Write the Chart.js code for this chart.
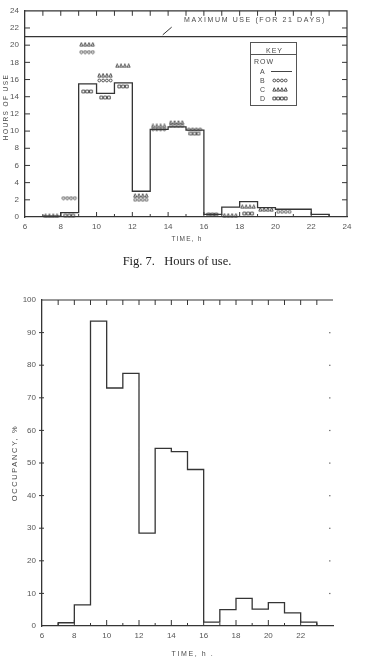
<!DOCTYPE html>
<html>
<head>
<meta charset="utf-8">
<script src="https://cdn.jsdelivr.net/npm/chart.js@4.4.1/dist/chart.umd.min.js"></script>
<style>
body{margin:0;background:#fff;width:378px;height:667px;position:relative;overflow:hidden;
  font-family:"Liberation Sans Narrow","Liberation Sans",sans-serif;color:#4a4a4a}
canvas.ch{position:absolute;left:0}
.t{position:absolute;white-space:pre;font-size:7px;letter-spacing:1.3px;line-height:1;transform:translate(-50%,-50%)}
.r{transform:translate(-50%,-50%) rotate(-90deg)}
#cap{position:absolute;left:177px;top:261px;transform:translate(-50%,-50%);white-space:pre;
  font-family:"Liberation Serif","DejaVu Serif",serif;font-size:12.5px;color:#222}
#key{position:absolute;left:250px;top:42px;width:45px;height:62px;border:1px solid #555}
#key div{position:absolute;font-size:7px;line-height:1;letter-spacing:1px}
#key canvas{position:absolute}
</style>
</head>
<body>
<canvas id="top" class="ch" width="378" height="245" style="top:0"></canvas>
<canvas id="bot" class="ch" width="378" height="387" style="top:280px"></canvas>

<div class="t" style="left:255px;top:19px;letter-spacing:1.6px">MAXIMUM USE (FOR 21 DAYS)</div>
<div class="t r" style="left:6px;top:107px;font-size:6.5px;letter-spacing:1.4px">HOURS OF USE</div>
<div class="t" style="left:187px;top:239px;font-size:6.5px;letter-spacing:1.2px">TIME, h</div>
<div id="cap">Fig. 7.   Hours of use.</div>
<div class="t r" style="left:15px;top:463px;font-size:7.5px;letter-spacing:1.6px">OCCUPANCY, %</div>
<div class="t" style="left:193px;top:653px;font-size:7px;letter-spacing:1.6px">TIME, h .</div>

<div id="key">
  <div style="left:15px;top:4px">KEY</div>
  <div style="left:0;top:11px;width:45px;height:0;border-top:1px solid #555"></div>
  <div style="left:3px;top:15px">ROW</div>
  <div style="left:9px;top:25px">A</div>
  <div style="left:20px;top:28px;width:21px;height:0;border-top:1px solid #444"></div>
  <div style="left:9px;top:34px">B</div>
  <div style="left:9px;top:43px">C</div>
  <div style="left:9px;top:52px">D</div>
</div>

<script>
// top chart: row A step line, value for the hour that starts at hoursA[i]
const hoursA = [6, 7, 8, 9, 10, 11, 12, 13, 14, 15, 16, 17, 18, 19, 20, 21, 22, 23, 24];
const useA = [0, 0.1, 0.5, 15.5, 14.4, 15.6, 3.0, 10.2, 10.5, 10.1, 0.3, 1.15, 1.8, 1.1, 0.9, 0.9, 0.3, 0, 0];
const maxUse = 21;

// rows B, C, D drawn as symbol groups at the middle of each hour
const rowBx = [8.5, 9.5, 10.5, 12.5, 13.5, 14.5, 15.5, 20.5];
const rowBy = [2.2, 19.2, 15.9, 2.0, 10.2, 10.6, 10.2, 0.6];
const rowCx = [7.5, 9.5, 10.5, 11.5, 12.5, 13.5, 14.5, 17.5, 18.5, 19.5];
const rowCy = [0.15, 20.1, 16.5, 17.6, 2.5, 10.6, 11.0, 0.2, 1.2, 0.9];
const rowDx = [8.5, 9.5, 10.5, 11.5, 15.5, 16.5, 18.5];
const rowDy = [0.15, 14.6, 13.9, 15.2, 9.7, 0.3, 0.4];

const topXTicks = [6, 8, 10, 12, 14, 16, 18, 20, 22, 24];
const topYTicks = [0, 2, 4, 6, 8, 10, 12, 14, 16, 18, 20, 22, 24];

// bottom chart: occupancy for the hour that starts at occHours[i]
const occHours = [6, 7, 8, 9, 10, 11, 12, 13, 14, 15, 16, 17, 18, 19, 20, 21, 22, 23];
const occupancy = [0, 1, 6.5, 93.5, 73, 77.5, 28.5, 54.5, 53.5, 48, 1.2, 5, 8.5, 5.2, 7.2, 4, 1.2, 0];
const botXTicks = [6, 8, 10, 12, 14, 16, 18, 20, 22];

const ink = '#353535';
const F = '"Liberation Sans Narrow","Liberation Sans",sans-serif';

function glyph(kind, n) {
  const c = document.createElement('canvas');
  c.width = Math.ceil(n * 3.8 + 1);
  c.height = 5;
  const g = c.getContext('2d');
  g.strokeStyle = '#404040';
  g.lineWidth = 0.9;
  for (let i = 0; i < n; i++) {
    const cx = 2.3 + i * 3.8, cy = 2.5;
    g.beginPath();
    if (kind == 'circle') g.arc(cx, cy, 1.4, 0, Math.PI * 2);
    else if (kind == 'triangle') { g.moveTo(cx - 1.5, cy + 1.6); g.lineTo(cx, cy - 1.8); g.lineTo(cx + 1.5, cy + 1.6); g.closePath(); }
    else g.rect(cx - 1.4, cy - 1.4, 2.8, 2.8);
    g.stroke();
  }
  return c;
}

// legend symbols
[['circle', 34], ['triangle', 43], ['square', 52]].forEach(([k, t]) => {
  const c = glyph(k, 4);
  c.style.left = '21px';
  c.style.top = (t + 0.5) + 'px';
  document.getElementById('key').appendChild(c);
});

const pts = (xs, ys) => xs.map((x, i) => ({x: x, y: ys[i]}));

// inward ticks and the extra frame lines, placed with the scales
function framePlugin(o) {
  return {
    id: 'frame',
    afterDraw(chart) {
      const ctx = chart.ctx, a = chart.chartArea;
      const xs = chart.scales.x, ys = chart.scales.y;
      ctx.save();
      ctx.strokeStyle = ink;
      ctx.lineWidth = 1.2;
      ctx.beginPath();
      ctx.moveTo(a.left, a.top); ctx.lineTo(a.right, a.top);
      if (o.rightBorder) { ctx.lineTo(a.right, a.bottom); }
      ctx.stroke();
      ctx.lineWidth = 1;
      ctx.beginPath();
      for (let h = xs.min + 1; h < xs.max; h++) {
        const px = xs.getPixelForValue(h);
        ctx.moveTo(px, a.top); ctx.lineTo(px, a.top + 5);
        const len = h % 2 == 0 ? o.evenLen : o.oddLen;
        ctx.moveTo(px, a.bottom); ctx.lineTo(px, a.bottom - len);
      }
      for (let v = ys.min + o.yStep; v < ys.max; v += o.yStep) {
        const py = ys.getPixelForValue(v);
        ctx.moveTo(a.left - o.yOut, py); ctx.lineTo(a.left + o.yIn, py);
        if (o.rightBorder) { ctx.moveTo(a.right, py); ctx.lineTo(a.right - 5, py); }
      }
      ctx.stroke();
      if (!o.rightBorder) {
        ctx.fillStyle = '#777';
        for (let v = ys.min + o.yStep; v < ys.max; v += o.yStep) {
          ctx.fillRect(a.right - 4, ys.getPixelForValue(v) - 0.5, 1.5, 1.2);
        }
      }
      if (o.leader) {
        ctx.beginPath();
        ctx.moveTo(xs.getPixelForValue(13.7), ys.getPixelForValue(21.2));
        ctx.lineTo(xs.getPixelForValue(14.2), ys.getPixelForValue(22.1));
        ctx.stroke();
      }
      ctx.restore();
    }
  };
}

function axes(xmin, xmax, xticks, ymax, yticks, xh, yw, ypad) {
  return {
    x: {
      type: 'linear', min: xmin, max: xmax,
      afterFit(s) { s.height = xh; },
      afterBuildTicks(s) { s.ticks = xticks.map(v => ({value: v})); },
      ticks: {font: {size: 8, family: F}, color: '#555', padding: 5, maxRotation: 0, autoSkip: false},
      grid: {drawOnChartArea: false, drawTicks: false},
      border: {color: ink, width: 1.3}
    },
    y: {
      min: 0, max: ymax,
      afterFit(s) { s.width = yw; },
      afterBuildTicks(s) { s.ticks = yticks.map(v => ({value: v})); },
      ticks: {font: {size: 8, family: F}, color: '#555', padding: ypad, autoSkip: false},
      grid: {drawOnChartArea: false, drawTicks: false},
      border: {color: ink, width: 1.3}
    }
  };
}

new Chart(document.getElementById('top'), {
  type: 'line',
  data: {
    datasets: [
      {data: pts(hoursA, useA), stepped: 'before', borderColor: ink, borderWidth: 1.3, pointRadius: 0, fill: false},
      {data: [{x: 6, y: maxUse}, {x: 24, y: maxUse}], borderColor: ink, borderWidth: 1.3, pointRadius: 0},
      {type: 'scatter', data: pts(rowBx, rowBy), pointStyle: glyph('circle', 4), pointRadius: 3, clip: false},
      {type: 'scatter', data: pts(rowCx, rowCy), pointStyle: glyph('triangle', 4), pointRadius: 3, clip: false},
      {type: 'scatter', data: pts(rowDx, rowDy), pointStyle: glyph('square', 3), pointRadius: 3, clip: false}
    ]
  },
  options: {
    responsive: false, animation: false, events: [],
    layout: {padding: {top: 3, right: 31, left: 0, bottom: 0}},
    plugins: {legend: {display: false}, tooltip: {enabled: false}},
    scales: axes(6, 24, topXTicks, 24, topYTicks, 28, 25, 6)
  },
  plugins: [framePlugin({rightBorder: true, yStep: 2, yIn: 5, yOut: 0, evenLen: 5, oddLen: 3, leader: true})]
});

const botScales = axes(6, 24, botXTicks, 100, [0, 10, 20, 30, 40, 50, 60, 70, 80, 90, 100], 41, 42, 6);
new Chart(document.getElementById('bot'), {
  type: 'line',
  data: {
    datasets: [
      {data: pts(occHours, occupancy), stepped: 'before', borderColor: ink, borderWidth: 1.3, pointRadius: 0, fill: false}
    ]
  },
  options: {
    responsive: false, animation: false, events: [],
    layout: {padding: {top: 20, right: 45, left: 0, bottom: 0}},
    plugins: {legend: {display: false}, tooltip: {enabled: false}},
    scales: botScales
  },
  plugins: [framePlugin({rightBorder: false, yStep: 10, yIn: 2, yOut: 3, evenLen: 6, oddLen: 3, leader: false})]
});
</script>
</body>
</html>
